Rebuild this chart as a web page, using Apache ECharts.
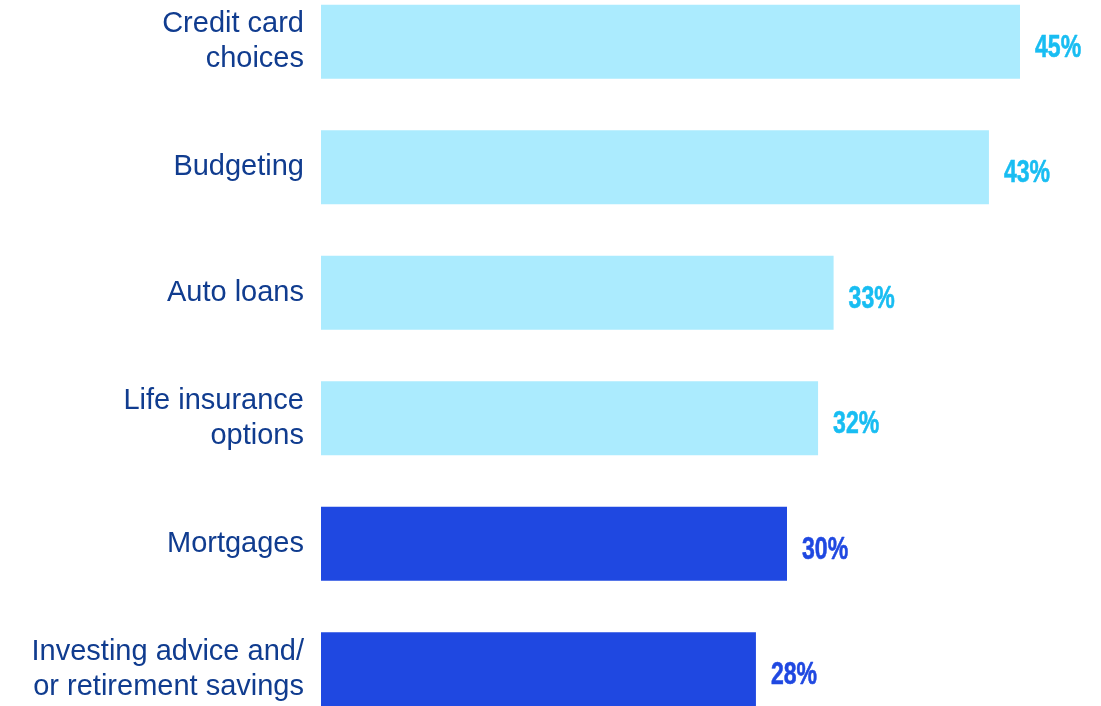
<!DOCTYPE html>
<html>
<head>
<meta charset="utf-8">
<style>
  html, body { margin: 0; padding: 0; background: #ffffff; overflow: hidden; }
  #frame { position: relative; width: 1101px; height: 706px; overflow: hidden; }
  /* plot is slightly taller than the frame so the outer bands are clipped evenly */
  #chart { position: absolute; left: 0; top: -21px; width: 1101px; height: 753px; }
</style>
<script src="https://cdn.jsdelivr.net/npm/echarts@6/dist/echarts.min.js"></script>
</head>
<body>
<div id="frame"><div id="chart"></div></div>
<script>
// Share of respondents per financial topic (%)
const categories = [
  'Credit card\nchoices',
  'Budgeting',
  'Auto loans',
  'Life insurance\noptions',
  'Mortgages',
  'Investing advice and/\nor retirement savings'
];
const values = [45, 43, 33, 32, 30, 28];
// 'light' = first group, 'dark' = emphasised group
const groups = ['light', 'light', 'light', 'light', 'dark', 'dark'];

const palette = {
  light: { bar: '#ABEBFE', label: '#18BDF2' },
  dark:  { bar: '#1F48E1', label: '#1F48E1' }
};

const chart = echarts.init(document.getElementById('chart'), null, { renderer: 'canvas' });

chart.setOption({
  animation: false,
  backgroundColor: '#ffffff',
  grid: { left: 321, top: 0, width: 699, height: 753, containLabel: false },
  xAxis: {
    type: 'value', min: 0, max: 45,
    show: false
  },
  yAxis: {
    type: 'category',
    inverse: true,
    data: categories,
    axisLine: { show: false },
    axisTick: { show: false },
    axisLabel: {
      margin: 17,
      color: '#103C8F',
      fontFamily: 'Liberation Sans, Arial, sans-serif',
      fontSize: 29,
      lineHeight: 35,
      align: 'right'
    }
  },
  series: [{
    type: 'bar',
    barWidth: 74,
    data: values.map((v, i) => ({
      value: v,
      itemStyle: { color: palette[groups[i]].bar }
    }))
  }, {
    // condensed percentage labels placed just past each bar end
    type: 'custom',
    data: values.map((v, i) => [v, i]),
    encode: { x: 0, y: 1 },
    z: 5,
    renderItem: (params, api) => {
      const i = params.dataIndex;
      const pt = api.coord([api.value(0), api.value(1)]);
      const c = palette[groups[i]].label;
      return {
        type: 'text',
        x: pt[0] + 15,
        y: pt[1] + 6,
        scaleX: 0.72,
        style: {
          text: values[i] + '%',
          font: 'bold 32px "Liberation Sans", Arial, sans-serif',
          fill: c,
          stroke: c,
          lineWidth: 0.6,
          textAlign: 'left',
          textVerticalAlign: 'middle'
        }
      };
    }
  }]
});
</script>
</body>
</html>
